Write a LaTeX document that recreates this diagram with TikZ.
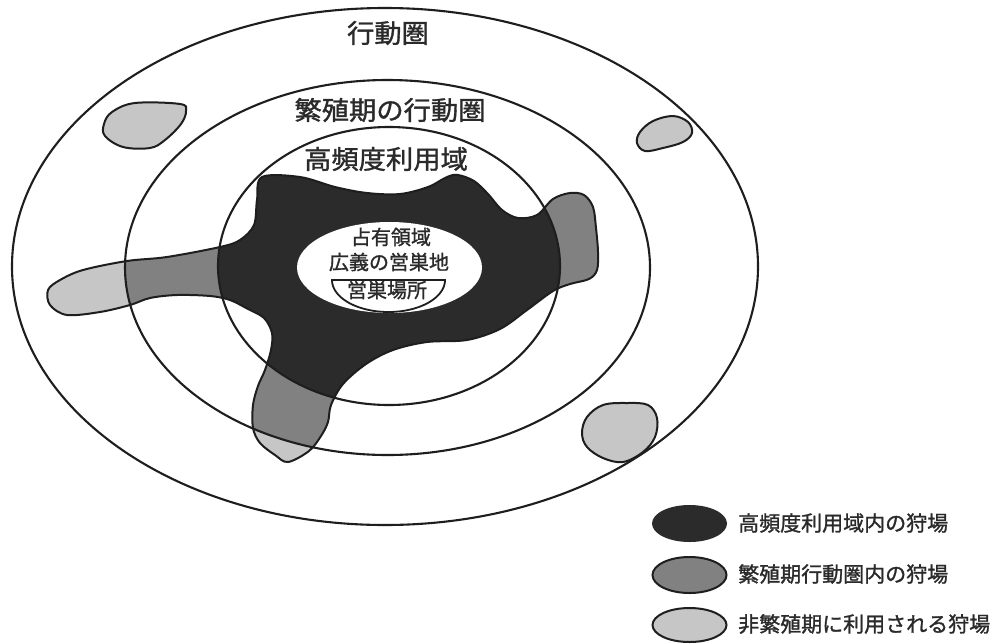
\documentclass[tikz,border=0pt]{standalone}
\usepackage{fontspec}
\setmainfont{Noto Sans CJK JP}
\newfontfamily\heavycjk{Noto Sans CJK JP}[FakeBold=1.2]
\definecolor{darkfill}{HTML}{2B2B2B}
\definecolor{midfill}{HTML}{818181}
\definecolor{lightfill}{HTML}{C6C6C6}
\definecolor{inkline}{HTML}{1E1E1E}
\definecolor{inktext}{HTML}{2A2A2A}
\begin{document}
\begin{tikzpicture}[x=1pt,y=-1pt,
  ring/.style={draw=inkline,line width=2.1pt},
  edge/.style={draw=inkline,line width=2pt},
  biglabel/.style={font=\heavycjk\fontsize{26}{30}\selectfont,text=inktext,inner sep=0pt,xscale=1.05},
  midlabel/.style={font=\heavycjk\fontsize{20}{24}\selectfont,text=inktext,inner sep=0pt},
  keylabel/.style={font=\heavycjk\fontsize{21}{25}\selectfont,text=inktext,inner sep=0pt,anchor=west},
  spot/.style={edge,fill=lightfill}]
\useasboundingbox (0,0) rectangle (1001,643);
\fill[white] (0,0) rectangle (1001,643);
% the hunting-ground shape
\path[save path=\blob] plot[smooth cycle, tension=0.55] coordinates {
 (262,177) (300,177) (335,187) (367,193) (400,194) (428,187) (447,177) (458,175)
 (474,181) (488,194) (502,210) (518,218) (537,215) (553,199) (570,193) (584,195)
 (593,207) (596,228) (598,252) (597,270) (589,279) (570,284) (553,291) (527,310)
 (500,329) (467,340) (427,342) (393,350) (366,364) (343,384) (331,405) (328,422)
 (321,436) (309,451) (288,462) (275,455) (260,443) (253,428) (253,405) (258,386)
 (265,370) (271,350) (272,333) (264,318) (248,309) (230,300) (210,296) (177,295)
 (150,298) (130,305) (100,312) (67,315) (50,305) (48,290) (60,280) (83,270)
 (127,261) (167,257) (220,247) (240,240) (254,225) (257,200)};
\fill[lightfill, use path=\blob];
\begin{scope}
 \clip (387.5,267.5) ellipse [x radius=262.5pt, y radius=187.5pt];
 \fill[midfill, use path=\blob];
\end{scope}
\begin{scope}
 \clip (389,266) ellipse [x radius=171pt, y radius=139pt];
 \fill[darkfill, use path=\blob];
\end{scope}
\draw[edge, use path=\blob];
% small hunting grounds outside the breeding range
\draw[spot] plot[smooth cycle, tension=0.6] coordinates {
 (112,112) (135,103) (180,104) (186,111) (181,124) (165,140) (150,148) (123,147) (105,136) (104,124)};
\draw[spot] plot[smooth cycle, tension=0.6] coordinates {
 (640,132) (653,121) (673,116) (688,122) (692,133) (683,142) (663,148) (645,151) (637,143)};
\draw[spot] plot[smooth cycle, tension=0.6] coordinates {
 (587,417) (603,405) (627,403) (648,405) (657,418) (655,437) (643,452) (623,462) (603,458) (587,447) (582,433)};
% rings
\draw[ring] (385,266.5) ellipse [x radius=373pt, y radius=258.5pt];
\draw[ring] (387.5,267.5) ellipse [x radius=262.5pt, y radius=187.5pt];
\draw[ring] (389,266) ellipse [x radius=171pt, y radius=139pt];
% nest area
\fill[white] (389.5,267.5) ellipse [x radius=92.5pt, y radius=45.5pt];
\coordinate (nl) at (332,280);
\coordinate (nr) at (445,280);
\draw[edge,line width=1.8pt] (nl) -- (nr) plot[domain=0:180,samples=60] ({388.5+56.5*cos(\x)},{280+32*sin(\x)}) -- cycle;
% labels
\node[biglabel] (l1) at (388,33) {行動圏};
\node[biglabel] (l2) at (390,110) {繁殖期の行動圏};
\node[biglabel] (l3) at (386,159) {高頻度利用域};
\node[midlabel] (c1) at (391,237) {占有領域};
\node[midlabel] (c2) at (389,262) {広義の営巣地};
\node[midlabel] (c3) at (387,290) {営巣場所};
% legend
\fill[darkfill] (689.5,523.5) ellipse [x radius=37.5pt, y radius=18.5pt];
\draw[edge,fill=midfill] (689.5,575) ellipse [x radius=37pt, y radius=18pt];
\draw[edge,fill=lightfill] (689.5,625) ellipse [x radius=37pt, y radius=17pt];
\node[keylabel] (k1) at (738,523) {高頻度利用域内の狩場};
\node[keylabel] (k2) at (738,574) {繁殖期行動圏内の狩場};
\node[keylabel] (k3) at (738,624) {非繁殖期に利用される狩場};
\end{tikzpicture}
\end{document}
